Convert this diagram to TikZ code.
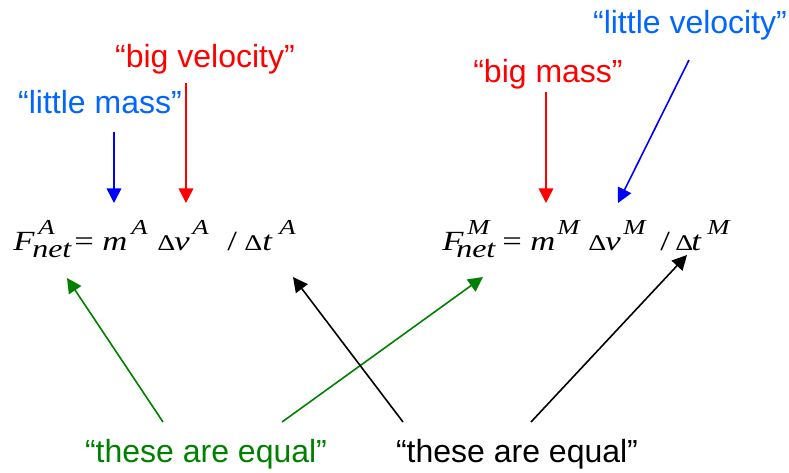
\documentclass[tikz,border=0pt]{standalone}
\usepackage{fontspec}
\setmainfont{Liberation Sans}
\newfontfamily\eqfont{Liberation Serif}
\usetikzlibrary{arrows.meta}
\definecolor{labelblue}{RGB}{0,102,255}
\definecolor{arrowblue}{RGB}{0,0,255}
\definecolor{labelred}{RGB}{255,0,0}
\definecolor{equalgreen}{RGB}{0,128,0}
\newcommand{\squash}[1]{\scalebox{1}[0.8]{#1}}

\begin{document}
\begin{tikzpicture}[x=0.75pt, y=-0.75pt, every node/.style={inner sep=0pt},
    lbl/.style={anchor=base, font=\fontsize{24}{28}\selectfont},
    eqit/.style={anchor=base west, font=\eqfont\itshape\fontsize{26}{30}\selectfont},
    eqsub/.style={anchor=base west, font=\eqfont\itshape\fontsize{24}{28}\selectfont},
    equp/.style={anchor=base west, font=\eqfont\fontsize{26}{30}\selectfont},
    eqsup/.style={anchor=base west, font=\eqfont\itshape\fontsize{20}{24}\selectfont},
    eqdelta/.style={anchor=base west, font=\eqfont\fontsize{21}{25}\selectfont},
    pointer/.style={line width=1.2pt, -{Triangle[length=11pt,width=11pt]}}]
        \useasboundingbox (0,0) rectangle (789,472);

        % labels
        \node[lbl, text=labelblue] (lmass) at (100,113) {“little mass”};
        \node[lbl, text=labelred] (bigvel) at (205,67) {“big velocity”};
        \node[lbl, text=labelred] (bigmass) at (548,82) {“big mass”};
        \node[lbl, text=labelblue] (lvel) at (690,33) {“little velocity”};
        \node[lbl, text=equalgreen] (greq) at (206,462) {“these are equal”};
        \node[lbl] (blkeq) at (517,462) {“these are equal”};

        % the two equations
        \foreach \n/\x/\t in {FA/13/F, mA/102/m, vA/174/v, tA/262/t, FM/442/F, mM/530/m, vM/605/v, tM/691/t}
            \node[eqit] (\n) at (\x,250) {\squash{\t}};
        \foreach \n/\x/\t in {FAs/38/A, mAs/131/A, vAs/192/A, tAs/279/A, FMs/467/M, mMs/557/M, vMs/623/M, tMs/707/M}
            \node[eqsup] (\n) at (\x,234) {\squash{\t}};
        \foreach \n/\x in {dvA/157, dtA/244, dvM/588, dtM/675}
            \node[eqdelta] (\n) at (\x,250) {\squash{Δ}};
        \node[eqsub] (netA) at (32,257) {\squash{net}};
        \node[eqsub] (netM) at (456,257) {\squash{net}};
        \node[equp] (eqsA) at (74,250) {\squash{=}};
        \node[equp] (eqsM) at (502,250) {\squash{=}};
        \node[equp] (slA) at (227,250) {\squash{/}};
        \node[equp] (slM) at (660,250) {\squash{/}};

        \coordinate (mAtip) at (114,203);
        \coordinate (vAtip) at (186,203);
        \coordinate (mMtip) at (546,203);
        \coordinate (vMtip) at (618,203);
        \coordinate (FAtip) at (67,278);
        \coordinate (FMtip) at (483,277);
        \coordinate (tAtip) at (293,277);
        \coordinate (tMtip) at (687,255);

        \draw[pointer, arrowblue] ([shift={(14,19)}]lmass.base) -- (mAtip);
        \draw[pointer, labelred] ([shift={(-19,16)}]bigvel.base) -- (vAtip);
        \draw[pointer, labelred] ([shift={(-2,10)}]bigmass.base) -- (mMtip);
        \draw[pointer, arrowblue] ([shift={(-1,27)}]lvel.base) -- (vMtip);
        \draw[pointer, equalgreen] ([shift={(-43,-40)}]greq.base) -- (FAtip);
        \draw[pointer, equalgreen] ([shift={(76,-40)}]greq.base) -- (FMtip);
        \draw[pointer] ([shift={(-114,-40)}]blkeq.base) -- (tAtip);
        \draw[pointer] ([shift={(14,-40)}]blkeq.base) -- (tMtip);
    \end{tikzpicture}
\end{document}
